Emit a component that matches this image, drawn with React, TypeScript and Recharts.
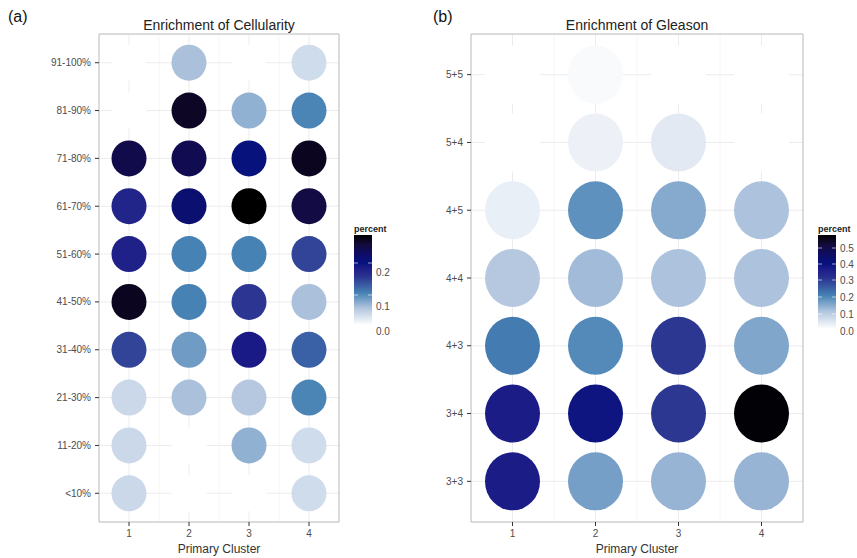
import React from 'react';
import {
  ScatterChart, Scatter, XAxis, YAxis, CartesianGrid, ReferenceArea
} from 'recharts';

const FONT = '"Liberation Sans", Arial, Helvetica, sans-serif';

const CLUSTERS = [1, 2, 3, 4];

// bottom -> top
const CELL_LEVELS = ['<10%', '11-20%', '21-30%', '31-40%', '41-50%', '51-60%', '61-70%', '71-80%', '81-90%', '91-100%'];
const cellC1 = [0.035, 0.035, 0.035, 0.14, 0.265, 0.172, 0.168, 0.24, 0, 0];
const cellC2 = [0, 0, 0.056, 0.082, 0.1, 0.1, 0.21, 0.235, 0.262, 0.056];
const cellC3 = [0, 0.067, 0.05, 0.18, 0.15, 0.1, 0.28, 0.195, 0.067, 0];
const cellC4 = [0.032, 0.032, 0.098, 0.122, 0.056, 0.14, 0.245, 0.265, 0.098, 0.032];
const CELL_MAX = 0.28;
const CELL_LEGEND_TICKS = ['0.2', '0.1', '0.0'];

const GLEASON_LEVELS = ['3+3', '3+4', '4+3', '4+4', '4+5', '5+4', '5+5'];
const gleC1 = [0.36, 0.36, 0.21, 0.1, 0.03, 0, 0];
const gleC2 = [0.16, 0.38, 0.19, 0.12, 0.18, 0.025, 0.01];
const gleC3 = [0.13, 0.3, 0.3, 0.11, 0.145, 0.04, 0];
const gleC4 = [0.13, 0.56, 0.15, 0.11, 0.11, 0, 0];
const GLE_MAX = 0.566;
const GLE_LEGEND_TICKS = ['0.5', '0.4', '0.3', '0.2', '0.1', '0.0'];

const STOPS: [number, string][] = [
  [0, '#ffffff'],
  [0.19, '#b0c4de'],
  [0.357, '#4682b4'],
  [0.54, '#2b3390'],
  [0.64, '#1b1b86'],
  [0.69, '#06127e'],
  [0.8, '#0f0c62'],
  [0.9, '#140a3a'],
  [1, '#000000'],
];

const hex = (h: string) => [1, 3, 5].map(i => parseInt(h.slice(i, i + 2), 16));

function colorAt(t: number) {
  t = Math.max(0, Math.min(1, t));
  for (let i = 1; i < STOPS.length; i++) {
    const [t1, c1] = STOPS[i];
    const [t0, c0] = STOPS[i - 1];
    if (t <= t1) {
      const f = (t - t0) / (t1 - t0);
      const a = hex(c0), b = hex(c1);
      const m = a.map((v, k) => Math.round(v + (b[k] - v) * f));
      return `rgb(${m[0]},${m[1]},${m[2]})`;
    }
  }
  return '#000';
}

const build = (cols: number[][]) =>
  CLUSTERS.flatMap((c, ci) => cols[ci].map((v, i) => ({ x: c, y: i + 1, v })));

const cellData = build([cellC1, cellC2, cellC3, cellC4]);
const gleData = build([gleC1, gleC2, gleC3, gleC4]);

const tickStyle = { fontSize: 10, fill: '#4d4d4d', fontFamily: FONT };

function makeShape(max: number, rx: number, ry: number) {
  return (props: any) => {
    const { cx, cy, payload } = props;
    return <ellipse cx={cx} cy={cy} rx={rx} ry={ry} fill={colorAt(payload.v / max)} />;
  };
}

interface PanelProps {
  data: any[];
  levels: string[];
  max: number;
  width: number;
  yWidth: number;
  right: number;
  rx: number;
  ry: number;
}

function Panel({ data, levels, max, width, yWidth, right, rx, ry }: PanelProps) {
  const n = levels.length;
  const yTicks = levels.map((_, i) => i + 1);
  return (
    <ScatterChart width={width} height={558} margin={{ top: 34, right, bottom: 0, left: 0 }}>
      <CartesianGrid stroke="#f6f6f6" strokeWidth={1} horizontal={false} verticalValues={[1.5, 2.5, 3.5]} />
      <CartesianGrid stroke="#ececec" strokeWidth={1} verticalValues={CLUSTERS} horizontalValues={yTicks} />
      <XAxis
        type="number"
        dataKey="x"
        domain={[0.5, 4.5]}
        ticks={CLUSTERS}
        allowDataOverflow
        interval={0}
        height={36}
        tickSize={4}
        tickMargin={4}
        axisLine={false}
        tickLine={{ stroke: '#333' }}
        tick={tickStyle}
        label={{ value: 'Primary Cluster', position: 'insideBottom', offset: 5, fontSize: 12, fill: '#333', fontFamily: FONT }}
      />
      <YAxis
        type="number"
        dataKey="y"
        domain={[0.4, n + 0.6]}
        ticks={yTicks}
        allowDataOverflow
        interval={0}
        width={yWidth}
        tickSize={4}
        tickMargin={4}
        axisLine={false}
        tickLine={{ stroke: '#333' }}
        tick={tickStyle}
        tickFormatter={(v: number) => levels[v - 1]}
      />
      <Scatter data={data} shape={makeShape(max, rx, ry)} isAnimationActive={false} />
      <ReferenceArea x1={0.5} x2={4.5} y1={0.4} y2={n + 0.6} fill="none" fillOpacity={0} stroke="#b8b8b8" strokeWidth={1} />
    </ScatterChart>
  );
}

function ColorBar({ id, left, top, barH, labels, labelYs, tickYs }: any) {
  return (
    <svg style={{ position: 'absolute', left, top }} width={60} height={barH + 30}>
      <defs>
        <linearGradient id={id} x1="0" y1="1" x2="0" y2="0">
          {STOPS.map(([t, c]) => (
            <stop key={t} offset={`${t * 100}%`} stopColor={c} />
          ))}
        </linearGradient>
      </defs>
      <text x={0} y={7} fontSize={9} fontWeight="bold" fill="#222" fontFamily={FONT}>percent</text>
      <rect x={0} y={10} width={18} height={barH} fill={`url(#${id})`} />
      {tickYs.map((y: number, i: number) => (
        <g key={i}>
          <line x1={0} x2={4} y1={y} y2={y} stroke="#ffffff" strokeOpacity={0.6} />
          <line x1={14} x2={18} y1={y} y2={y} stroke="#ffffff" strokeOpacity={0.6} />
        </g>
      ))}
      {labels.map((l: string, i: number) => (
        <text key={l} x={22} y={labelYs[i]} dy="0.35em" fontSize={10} fill="#4d4d4d" fontFamily={FONT}>{l}</text>
      ))}
    </svg>
  );
}

export default function App() {
  return (
    <div style={{ position: 'absolute', left: 0, top: 0, width: 857, height: 558, background: '#fff', fontFamily: FONT }}>
      <div style={{ position: 'absolute', left: 0, top: 0 }}>
        <Panel data={cellData} levels={CELL_LEVELS} max={CELL_MAX} width={430} yWidth={99} right={91} rx={17.5} ry={18} />
      </div>
      <div style={{ position: 'absolute', left: 430, top: 0 }}>
        <Panel data={gleData} levels={GLEASON_LEVELS} max={GLE_MAX} width={427} yWidth={41} right={54} rx={27.5} ry={29} />
      </div>
      <div style={{ position: 'absolute', left: 8, top: 8, fontSize: 16, color: '#111' }}>(a)</div>
      <div style={{ position: 'absolute', left: 433, top: 8, fontSize: 16, color: '#111' }}>(b)</div>
      <div style={{ position: 'absolute', left: 99, width: 240, top: 17, textAlign: 'center', fontSize: 14, color: '#222' }}>Enrichment of Cellularity</div>
      <div style={{ position: 'absolute', left: 471, width: 332, top: 17, textAlign: 'center', fontSize: 14, color: '#222' }}>Enrichment of Gleason</div>
      <ColorBar id="gcell" left={354} top={225} barH={90}
        labels={CELL_LEGEND_TICKS} labelYs={[47, 81, 106]} tickYs={[38, 70]} />
      <ColorBar id="ggle" left={818} top={225} barH={94}
        labels={GLE_LEGEND_TICKS} labelYs={[23, 39, 55, 72, 89, 106]} tickYs={[23, 39, 55, 72, 89]} />
    </div>
  );
}
